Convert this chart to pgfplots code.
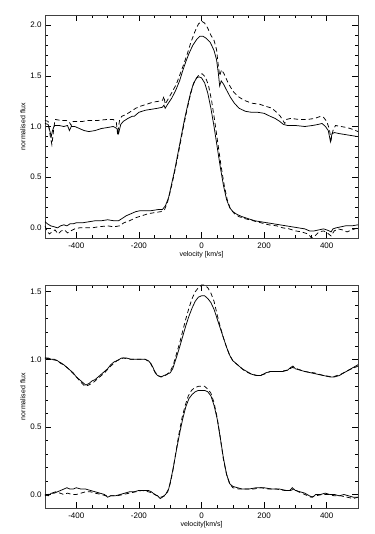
\documentclass[border=0pt]{standalone}
\usepackage{pgfplots}
\pgfplotsset{compat=1.18}
\usepackage{fontspec}
\setmainfont{Liberation Sans}

\pgfplotsset{
  idl/.style={
    scale only axis, width=313pt, height=223pt,
    xmin=-500, xmax=500,
    xtick={-400,-200,0,200,400}, minor x tick num=3,
    minor y tick num=4,
    tick align=inside, ticks=both,
    major tick length=6pt, minor tick length=3pt,
    tick style={black, line width=0.6pt},
    axis line style={black!75, line width=0.8pt},
    ticklabel style={font=\fontsize{8}{9}\selectfont},
    label style={font=\fontsize{7}{8}\selectfont},
    /pgf/number format/assume math mode=true,
    yticklabel style={/pgf/number format/.cd, fixed, fixed zerofill, precision=1},
    xticklabel style={yshift=-1pt},
    ylabel={normalised flux},
    ylabel style={at={(axis description cs:-0.071,0.5)}, anchor=center},
    xlabel style={yshift=4pt},
    clip=true,
  },
  sol/.style={black, line width=0.75pt, mark=none},
  das/.style={black, line width=0.75pt, mark=none, dash pattern=on 4.5pt off 3pt},
}

\begin{document}
\begin{tikzpicture}
\begin{axis}[idl, at={(0,0)}, anchor=south west,
  ymin=-0.1, ymax=2.1, ytick={0,0.5,1,1.5,2},
  xlabel={velocity [km/s]}]
% upper, solid
\addplot[sol] coordinates {
(-500,1.03) (-490,1.02) (-484,0.95) (-480,0.90) (-476,0.96) (-470,1.01) (-455,1.01) (-440,1.00) (-428,1.01) (-422,0.96) (-416,1.00) (-405,1.00) (-390,0.98) (-375,0.96) (-360,0.95) (-340,0.96) (-320,0.98) (-300,0.99) (-282,1.00) (-270,0.98) (-265,0.93) (-258,1.02) (-250,1.05) (-235,1.08) (-222,1.10) (-215,1.10) (-200,1.14) (-180,1.16) (-160,1.17) (-140,1.18) (-125,1.19) (-120,1.21) (-116,1.18) (-108,1.22) (-95,1.28) (-82,1.36) (-70,1.45) (-60,1.55) (-50,1.64) (-40,1.72) (-28,1.80) (-15,1.86) (-5,1.89) (5,1.89) (15,1.87) (28,1.83) (40,1.75) (48,1.66) (54,1.52) (58,1.40) (63,1.45) (70,1.42) (80,1.36) (92,1.29) (105,1.23) (120,1.18) (140,1.15) (160,1.14) (180,1.14) (200,1.13) (220,1.10) (235,1.08) (250,1.05) (262,1.02) (275,1.01) (300,1.01) (330,1.00) (355,1.01) (372,1.02) (385,1.03) (396,1.00) (405,0.96) (412,0.85) (417,0.93) (425,0.94) (440,0.93) (460,0.92) (480,0.91) (500,0.90)
};
% upper, dashed
\addplot[das] coordinates {
(-500,1.06) (-490,1.05) (-484,0.92) (-478,0.82) (-473,0.95) (-468,1.07) (-450,1.06) (-432,1.06) (-422,1.04) (-416,1.01) (-410,1.05) (-395,1.05) (-380,1.05) (-360,1.06) (-330,1.06) (-300,1.07) (-282,1.07) (-272,1.04) (-268,0.92) (-262,1.06) (-255,1.10) (-240,1.12) (-225,1.15) (-210,1.18) (-195,1.20) (-175,1.22) (-155,1.24) (-135,1.25) (-124,1.26) (-120,1.30) (-116,1.22) (-105,1.28) (-92,1.35) (-80,1.42) (-68,1.52) (-56,1.62) (-45,1.72) (-35,1.82) (-22,1.93) (-10,2.01) (0,2.04) (10,2.02) (20,1.97) (30,1.90) (40,1.85) (48,1.76) (53,1.62) (58,1.50) (64,1.56) (72,1.52) (85,1.43) (100,1.35) (115,1.30) (135,1.26) (160,1.23) (185,1.22) (205,1.20) (225,1.18) (240,1.14) (252,1.10) (260,1.06) (266,1.03) (272,1.07) (285,1.08) (310,1.07) (340,1.07) (362,1.08) (380,1.10) (390,1.09) (400,1.05) (408,0.98) (414,0.87) (420,0.96) (428,1.01) (445,1.00) (465,0.99) (485,0.97) (500,0.95)
};
% lower, solid
\addplot[sol] coordinates {
(-500,0.06) (-492,0.04) (-482,0.02) (-470,0.01) (-460,0.00) (-450,0.02) (-440,0.03) (-430,0.02) (-420,0.04) (-410,0.04) (-400,0.05) (-380,0.05) (-360,0.06) (-340,0.07) (-320,0.07) (-300,0.08) (-280,0.07) (-265,0.07) (-255,0.09) (-240,0.12) (-225,0.14) (-210,0.16) (-195,0.17) (-180,0.17) (-160,0.17) (-140,0.18) (-125,0.18) (-115,0.22) (-105,0.30) (-95,0.44) (-85,0.58) (-75,0.74) (-65,0.90) (-55,1.06) (-45,1.20) (-35,1.33) (-25,1.43) (-15,1.48) (-8,1.49) (0,1.48) (10,1.43) (20,1.33) (30,1.18) (40,1.00) (50,0.80) (60,0.60) (70,0.42) (80,0.28) (90,0.20) (100,0.16) (115,0.13) (130,0.11) (150,0.09) (170,0.07) (190,0.06) (210,0.05) (230,0.04) (250,0.03) (270,0.02) (290,0.01) (310,0.00) (330,-0.01) (345,-0.03) (360,-0.03) (375,-0.02) (390,-0.01) (400,-0.02) (408,-0.03) (414,-0.04) (420,-0.01) (430,0.00) (445,0.01) (460,0.02) (480,0.02) (500,0.03)
};
% lower, dashed
\addplot[das] coordinates {
(-500,0.02) (-494,-0.03) (-486,-0.06) (-478,-0.04) (-468,-0.02) (-458,-0.06) (-448,-0.03) (-438,-0.02) (-428,-0.05) (-418,-0.03) (-405,-0.01) (-390,0.00) (-370,0.00) (-350,0.00) (-330,0.01) (-300,0.02) (-280,0.01) (-262,0.02) (-248,0.05) (-230,0.07) (-210,0.10) (-190,0.12) (-170,0.14) (-150,0.15) (-130,0.16) (-118,0.18) (-108,0.26) (-98,0.38) (-88,0.52) (-78,0.67) (-68,0.83) (-58,0.99) (-48,1.14) (-38,1.28) (-28,1.40) (-18,1.47) (-8,1.51) (2,1.52) (12,1.49) (22,1.41) (32,1.26) (42,1.06) (52,0.84) (62,0.62) (72,0.43) (82,0.28) (92,0.19) (105,0.14) (120,0.11) (140,0.09) (165,0.07) (190,0.05) (215,0.03) (240,0.02) (260,0.00) (280,-0.01) (300,-0.03) (320,-0.04) (340,-0.06) (352,-0.10) (362,-0.08) (375,-0.04) (390,-0.03) (402,-0.05) (414,-0.08) (424,-0.03) (436,-0.01) (450,-0.02) (465,-0.04) (480,-0.02) (500,0.00)
};
\end{axis}

\begin{axis}[idl, at={(0,-270pt)}, anchor=south west,
  ymin=-0.1, ymax=1.55, ytick={0,0.5,1,1.5},
  xlabel={velocity[km/s]}]
% upper, solid
\addplot[sol] coordinates {
(-500,1.01) (-490,1.01) (-480,1.00) (-470,1.00) (-460,0.99) (-450,0.97) (-440,0.96) (-430,0.94) (-420,0.92) (-410,0.90) (-400,0.87) (-390,0.85) (-380,0.83) (-370,0.81) (-360,0.82) (-350,0.84) (-340,0.85) (-330,0.87) (-320,0.89) (-310,0.91) (-300,0.93) (-290,0.96) (-280,0.98) (-270,0.99) (-255,1.01) (-240,1.01) (-225,1.00) (-210,1.00) (-195,1.00) (-180,1.00) (-170,0.99) (-162,0.97) (-155,0.94) (-148,0.90) (-140,0.88) (-130,0.87) (-120,0.88) (-110,0.89) (-100,0.90) (-92,0.93) (-85,0.98) (-78,1.03) (-70,1.09) (-60,1.17) (-50,1.25) (-40,1.32) (-30,1.38) (-20,1.43) (-10,1.46) (0,1.47) (10,1.47) (20,1.45) (30,1.42) (40,1.37) (50,1.30) (60,1.23) (70,1.16) (80,1.09) (90,1.03) (100,0.99) (115,0.96) (130,0.93) (145,0.91) (160,0.89) (175,0.88) (190,0.88) (205,0.90) (220,0.91) (240,0.91) (260,0.91) (275,0.92) (285,0.94) (292,0.95) (300,0.93) (315,0.92) (330,0.91) (350,0.90) (370,0.89) (390,0.88) (410,0.87) (425,0.87) (440,0.88) (455,0.90) (470,0.92) (485,0.94) (500,0.96)
};
% upper, dashed
\addplot[das] coordinates {
(-500,1.01) (-480,1.00) (-460,0.99) (-440,0.96) (-420,0.92) (-400,0.87) (-385,0.83) (-372,0.80) (-360,0.81) (-345,0.83) (-330,0.86) (-310,0.90) (-290,0.95) (-270,0.99) (-250,1.01) (-225,1.00) (-200,1.00) (-180,1.00) (-165,0.98) (-152,0.92) (-140,0.88) (-128,0.87) (-115,0.88) (-100,0.91) (-90,0.96) (-80,1.04) (-70,1.12) (-60,1.21) (-50,1.30) (-40,1.38) (-30,1.45) (-20,1.50) (-10,1.53) (0,1.55) (10,1.55) (20,1.53) (30,1.49) (40,1.43) (50,1.33) (60,1.24) (70,1.16) (80,1.09) (90,1.03) (100,0.99) (120,0.95) (140,0.91) (160,0.89) (180,0.88) (200,0.89) (220,0.91) (250,0.91) (275,0.92) (290,0.94) (305,0.93) (330,0.91) (360,0.90) (390,0.88) (420,0.87) (445,0.89) (470,0.92) (500,0.95)
};
% lower, solid
\addplot[sol] coordinates {
(-500,0.00) (-490,-0.01) (-480,0.01) (-470,0.01) (-460,0.02) (-450,0.03) (-440,0.04) (-430,0.05) (-420,0.04) (-410,0.04) (-400,0.05) (-385,0.04) (-370,0.04) (-355,0.03) (-340,0.02) (-325,0.01) (-310,0.00) (-300,-0.02) (-290,-0.01) (-275,-0.01) (-260,0.00) (-245,0.01) (-230,0.02) (-215,0.02) (-200,0.03) (-185,0.03) (-170,0.03) (-160,0.02) (-150,0.00) (-140,-0.01) (-132,-0.03) (-125,-0.02) (-115,0.00) (-105,0.04) (-98,0.11) (-90,0.20) (-80,0.33) (-70,0.45) (-60,0.56) (-50,0.65) (-40,0.71) (-30,0.74) (-20,0.76) (-10,0.77) (0,0.77) (10,0.77) (20,0.76) (30,0.73) (40,0.66) (50,0.56) (60,0.42) (70,0.27) (80,0.15) (90,0.08) (100,0.06) (115,0.05) (130,0.04) (150,0.04) (175,0.05) (200,0.05) (225,0.04) (250,0.04) (270,0.03) (282,0.03) (290,0.05) (300,0.03) (315,0.02) (330,0.01) (345,-0.01) (355,-0.02) (365,0.00) (380,0.00) (395,0.01) (410,0.00) (425,0.00) (440,-0.01) (455,0.00) (470,-0.01) (485,-0.02) (500,-0.02)
};
% lower, dashed
\addplot[das] coordinates {
(-500,-0.01) (-490,0.00) (-478,0.01) (-466,0.02) (-452,0.01) (-440,0.00) (-428,0.01) (-414,0.00) (-400,0.00) (-385,0.01) (-370,0.02) (-355,0.02) (-340,0.01) (-320,0.00) (-305,-0.01) (-290,-0.01) (-270,-0.01) (-250,0.00) (-230,0.01) (-210,0.02) (-190,0.03) (-170,0.02) (-155,0.01) (-142,-0.01) (-130,-0.02) (-118,-0.01) (-108,0.02) (-100,0.08) (-92,0.17) (-82,0.31) (-72,0.45) (-62,0.57) (-52,0.66) (-42,0.73) (-32,0.77) (-22,0.79) (-10,0.80) (0,0.80) (10,0.80) (20,0.78) (30,0.75) (40,0.68) (50,0.57) (60,0.42) (70,0.26) (80,0.15) (90,0.08) (100,0.05) (120,0.04) (140,0.04) (165,0.04) (190,0.05) (215,0.04) (240,0.04) (265,0.03) (285,0.03) (295,0.04) (310,0.02) (330,0.00) (350,-0.02) (365,-0.01) (385,0.00) (405,0.00) (425,-0.01) (445,-0.01) (465,-0.02) (485,-0.03) (500,-0.02)
};
\end{axis}
\pgfresetboundingbox
\path[use as bounding box] (-45pt,-296pt) rectangle (329pt,238pt);
\end{tikzpicture}
\end{document}
